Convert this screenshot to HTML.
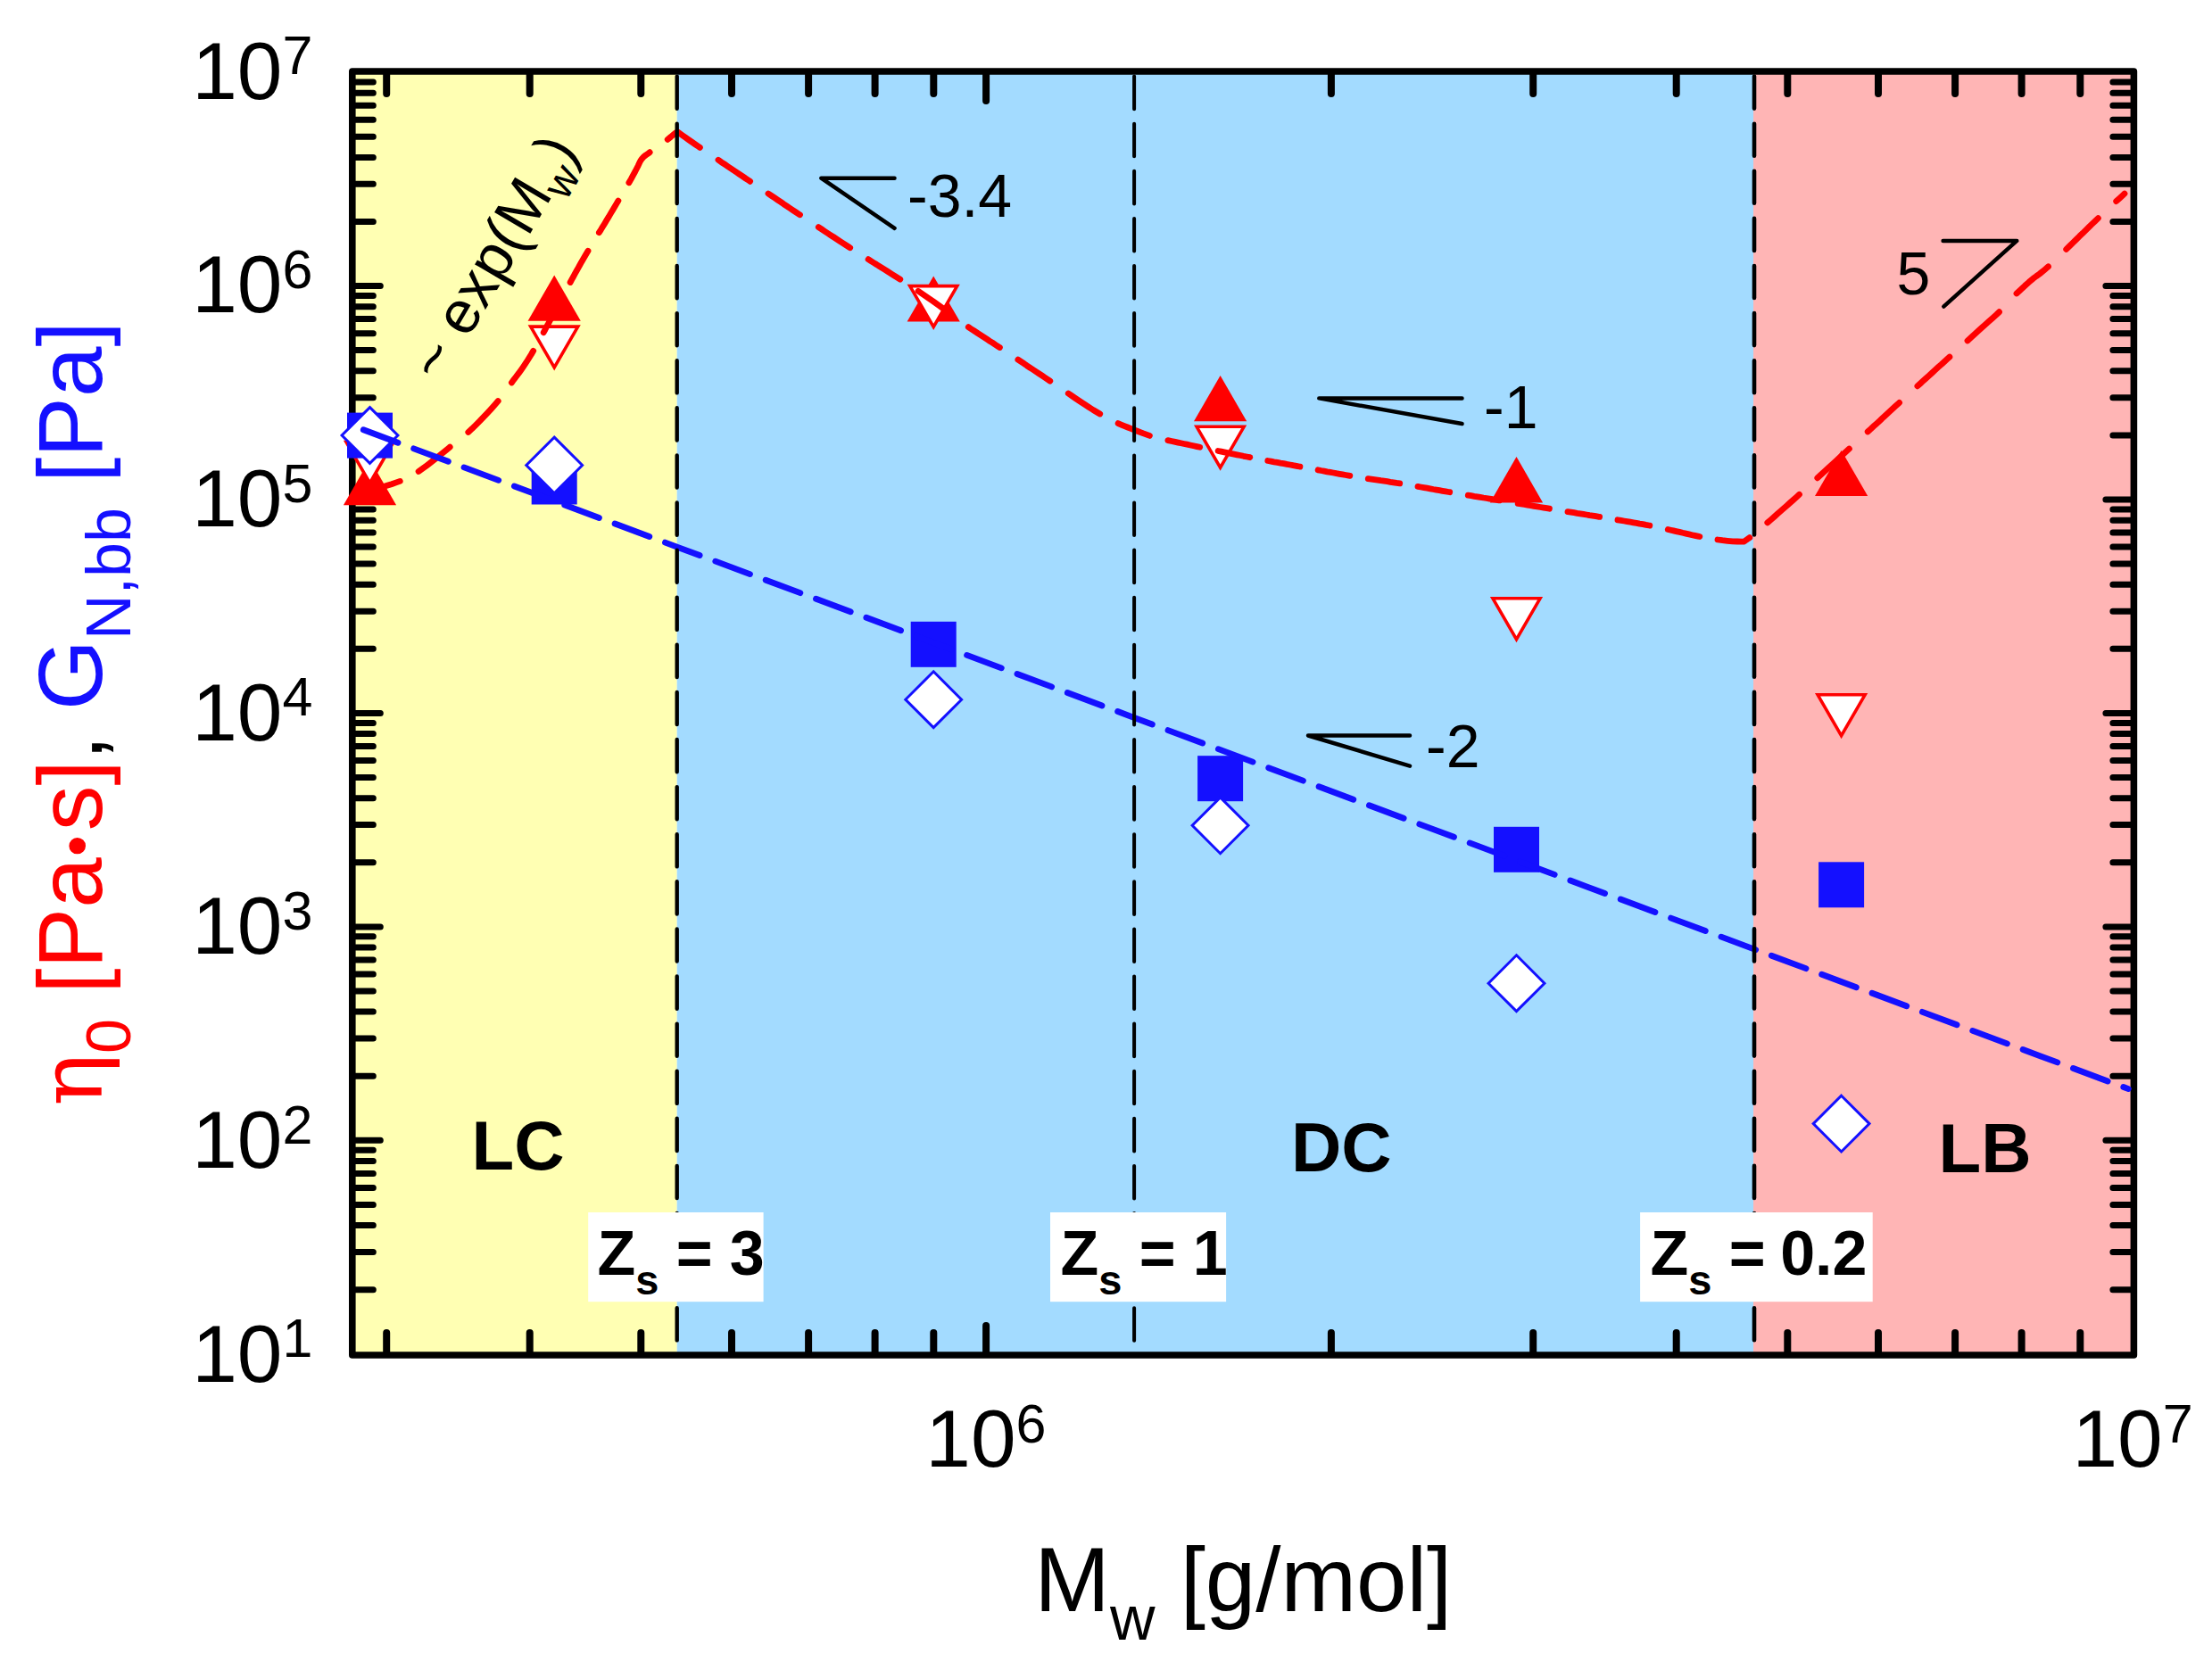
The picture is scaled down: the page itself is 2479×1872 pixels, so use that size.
<!DOCTYPE html>
<html lang="en">
<head>
<meta charset="utf-8">
<title>Zero-shear viscosity and plateau modulus vs. molecular weight</title>
<style>
html,body{margin:0;padding:0;background:#fff;}
body{width:2479px;height:1872px;overflow:hidden;}
svg{display:block;}
svg text{font-family:'Liberation Sans', sans-serif;fill:#000;white-space:pre;}
</style>
</head>
<body>
<svg width="2479" height="1872" viewBox="0 0 2479 1872">
<rect width="2479" height="1872" fill="#fff"/>
<g id="regions">
<rect x="394.8" y="80" width="363.9" height="1439" fill="#ffffb3"/>
<rect x="758.7" y="80" width="1206.3" height="1439" fill="#a3dbff"/>
<rect x="1965" y="80" width="426.4" height="1439" fill="#ffb5b5"/>
</g>
<path id="ticks" d="M394.8 1445.7h23.5M2391.4 1445.7h-23.5M394.8 1403.5h23.5M2391.4 1403.5h-23.5M394.8 1373.6h23.5M2391.4 1373.6h-23.5M394.8 1350.4h23.5M2391.4 1350.4h-23.5M394.8 1331.4h23.5M2391.4 1331.4h-23.5M394.8 1315.4h23.5M2391.4 1315.4h-23.5M394.8 1301.5h23.5M2391.4 1301.5h-23.5M394.8 1289.3h23.5M2391.4 1289.3h-23.5M394.8 1278.3h31.5M2391.4 1278.3h-31.5M394.8 1206.2h23.5M2391.4 1206.2h-23.5M394.8 1164.1h23.5M2391.4 1164.1h-23.5M394.8 1134.1h23.5M2391.4 1134.1h-23.5M394.8 1110.9h23.5M2391.4 1110.9h-23.5M394.8 1092h23.5M2391.4 1092h-23.5M394.8 1075.9h23.5M2391.4 1075.9h-23.5M394.8 1062.1h23.5M2391.4 1062.1h-23.5M394.8 1049.8h23.5M2391.4 1049.8h-23.5M394.8 1038.9h31.5M2391.4 1038.9h-31.5M394.8 966.8h23.5M2391.4 966.8h-23.5M394.8 924.6h23.5M2391.4 924.6h-23.5M394.8 894.7h23.5M2391.4 894.7h-23.5M394.8 871.5h23.5M2391.4 871.5h-23.5M394.8 852.5h23.5M2391.4 852.5h-23.5M394.8 836.5h23.5M2391.4 836.5h-23.5M394.8 822.6h23.5M2391.4 822.6h-23.5M394.8 810.4h23.5M2391.4 810.4h-23.5M394.8 799.4h31.5M2391.4 799.4h-31.5M394.8 727.3h23.5M2391.4 727.3h-23.5M394.8 685.2h23.5M2391.4 685.2h-23.5M394.8 655.3h23.5M2391.4 655.3h-23.5M394.8 632.1h23.5M2391.4 632.1h-23.5M394.8 613.1h23.5M2391.4 613.1h-23.5M394.8 597.1h23.5M2391.4 597.1h-23.5M394.8 583.2h23.5M2391.4 583.2h-23.5M394.8 570.9h23.5M2391.4 570.9h-23.5M394.8 560h31.5M2391.4 560h-31.5M394.8 487.9h23.5M2391.4 487.9h-23.5M394.8 445.7h23.5M2391.4 445.7h-23.5M394.8 415.8h23.5M2391.4 415.8h-23.5M394.8 392.6h23.5M2391.4 392.6h-23.5M394.8 373.7h23.5M2391.4 373.7h-23.5M394.8 357.6h23.5M2391.4 357.6h-23.5M394.8 343.7h23.5M2391.4 343.7h-23.5M394.8 331.5h23.5M2391.4 331.5h-23.5M394.8 320.5h31.5M2391.4 320.5h-31.5M394.8 248.5h23.5M2391.4 248.5h-23.5M394.8 206.3h23.5M2391.4 206.3h-23.5M394.8 176.4h23.5M2391.4 176.4h-23.5M394.8 153.2h23.5M2391.4 153.2h-23.5M394.8 134.2h23.5M2391.4 134.2h-23.5M394.8 118.2h23.5M2391.4 118.2h-23.5M394.8 104.3h23.5M2391.4 104.3h-23.5M394.8 92.1h23.5M2391.4 92.1h-23.5" fill="none" stroke="#000" stroke-width="7.0" stroke-linecap="round"/>
<path id="xticks" d="M433.2 1518v-23.9M433.2 81v23.9M593.7 1518v-23.9M593.7 81v23.9M718.3 1518v-23.9M718.3 81v23.9M820 1518v-23.9M820 81v23.9M906.1 1518v-23.9M906.1 81v23.9M980.6 1518v-23.9M980.6 81v23.9M1046.3 1518v-23.9M1046.3 81v23.9M1105.1 1518v-32M1105.1 81v32M1491.9 1518v-23.9M1491.9 81v23.9M1718.2 1518v-23.9M1718.2 81v23.9M1878.7 1518v-23.9M1878.7 81v23.9M2003.3 1518v-23.9M2003.3 81v23.9M2105 1518v-23.9M2105 81v23.9M2191.1 1518v-23.9M2191.1 81v23.9M2265.6 1518v-23.9M2265.6 81v23.9M2331.3 1518v-23.9M2331.3 81v23.9" fill="none" stroke="#000" stroke-width="8" stroke-linecap="round"/>
<rect id="frame" x="394.8" y="80" width="1996.6" height="1439" fill="none" stroke="#000" stroke-width="7.6" stroke-linejoin="round"/>
<g id="markers">
<polygon points="414.5,515 444.1,566.3 384.9,566.3" fill="#ff0000"/>
<polygon points="621.2,308.6 650.8,359.8 591.6,359.8" fill="#ff0000"/>
<polygon points="1046.2,309.4 1075.8,360.6 1016.6,360.6" fill="#ff0000"/>
<polygon points="1367.6,421 1397.2,472.3 1338,472.3" fill="#ff0000"/>
<polygon points="1699.5,512.1 1729.1,563.4 1669.9,563.4" fill="#ff0000"/>
<polygon points="2063.6,504.9 2093.2,556.1 2034,556.1" fill="#ff0000"/>
<polygon points="388,495.6 441,495.6 414.5,541.4" fill="#fff" stroke="#ff0000" stroke-width="3.6"/>
<polygon points="594.7,366.1 647.7,366.1 621.2,412" fill="#fff" stroke="#ff0000" stroke-width="3.6"/>
<polygon points="1019.7,320.6 1072.7,320.6 1046.2,366.5" fill="#fff" stroke="#ff0000" stroke-width="3.6"/>
<polygon points="1341.1,478.3 1394.1,478.3 1367.6,524.2" fill="#fff" stroke="#ff0000" stroke-width="3.6"/>
<polygon points="1673,670.8 1726,670.8 1699.5,716.7" fill="#fff" stroke="#ff0000" stroke-width="3.6"/>
<polygon points="2037.1,778.8 2090.1,778.8 2063.6,824.6" fill="#fff" stroke="#ff0000" stroke-width="3.6"/>
<rect x="389" y="462.6" width="51" height="51" fill="#1410ff"/>
<rect x="595.7" y="514.5" width="51" height="51" fill="#1410ff"/>
<rect x="1020.7" y="696.8" width="51" height="51" fill="#1410ff"/>
<rect x="1342.1" y="847.2" width="51" height="51" fill="#1410ff"/>
<rect x="1674" y="926.8" width="51" height="51" fill="#1410ff"/>
<rect x="2038.1" y="966.3" width="51" height="51" fill="#1410ff"/>
<polygon points="414.5,456.6 445.9,488 414.5,519.4 383.1,488" fill="#fff" stroke="#1410ff" stroke-width="3"/>
<polygon points="621.2,490.1 652.6,521.5 621.2,552.9 589.8,521.5" fill="#fff" stroke="#1410ff" stroke-width="3"/>
<polygon points="1046.2,752.8 1077.6,784.2 1046.2,815.6 1014.8,784.2" fill="#fff" stroke="#1410ff" stroke-width="3"/>
<polygon points="1367.6,893.9 1399,925.3 1367.6,956.7 1336.2,925.3" fill="#fff" stroke="#1410ff" stroke-width="3"/>
<polygon points="1699.5,1070.8 1730.9,1102.2 1699.5,1133.6 1668.1,1102.2" fill="#fff" stroke="#1410ff" stroke-width="3"/>
<polygon points="2063.6,1228.2 2095,1259.6 2063.6,1291 2032.2,1259.6" fill="#fff" stroke="#1410ff" stroke-width="3"/>
</g>
<path id="eta-guide" d="M414.5 549.5L417.9 548.6L422.8 547.4L428.4 545.9L433.7 544.3L438.8 542.7L444 540.9L448.3 539.4M469.1 528.5L473.6 525.3L478.5 521.7L483.6 517.8L488.6 513.8L493.5 509.9L498.5 505.8L503.4 501.8L504.2 501.1M524.8 484.4L529 480.6L533.3 476.4L537.5 472.2L541.8 467.7L546.1 463.2L550.5 458.4L554.8 453.5L558.2 449.6M573.4 428.9L575.8 425.6L578.4 422.2L581.1 418.7L584 414.7L586.5 411.1L588.8 407.7L591.2 404L593.2 400.8L595.4 397.3L597.4 393.8L597.7 393.3M609.2 372.7L611 369.3L612.6 366.2L614.3 363.2L616 360L617.6 356.9L619.3 353.7L621.1 350.4L622.8 347.2L624.5 343.9L626.2 340.7L627.9 337.4M639.1 316.5L640.9 313.2L642.7 310L644.3 306.9L646.2 303.5L648 300.3L649.7 297.3L651.7 293.7L653.7 290.3L655.6 287L657.5 283.8L659 281.2M671.4 260.7L673.4 257.6L675.2 254.6L677.6 250.7L679.9 246.8L682.3 242.9L684.5 239.1L686.7 235.4L688.9 231.8L690.9 228.4L692.9 225.1M704.9 204.8L707.3 200.6L709.7 196.1L711.7 192.5L713.5 189L715.2 185.7L716.5 182.8L717.8 180.2L719.5 177.8L721.5 175.7L723.6 174L726.2 172.2L728.2 170.7M748.2 156.3L751.7 153.5L754.8 150.9L757.3 148.8L759.4 147.9L764.1 151.2L768.1 154.1L771.7 156.6L775.7 159.4L779.6 162.1L782.8 164.3L784.4 165.4M805 179.3L808.5 181.8L812.2 184.2L815.9 186.7L819.3 189L822.3 191L825.3 193L828.4 195.1L832.2 197.6L835.8 200.1L839.5 202.5L840.6 203.3M861 217L864.5 219.4L868 221.7L871.5 224.1L875 226.4L878.4 228.8L881.9 231.1L885.4 233.5L888.9 235.8L892.4 238.1L895.9 240.5L896.5 240.8M917.3 254.6L920.8 256.9L924.2 259.2L927.7 261.5L931.2 263.8L934.7 266L938.2 268.3L941.6 270.6L945.1 272.8L948.6 275.1L952.1 277.4L952.7 277.7M973.1 290.7L976.1 292.6L979.1 294.5L982.4 296.5L986.1 298.9L989.8 301.2L993.4 303.4L996.9 305.7L1000.3 307.8L1003.6 309.9L1006.8 311.9L1008.8 313.2M1029 326.3L1033 329L1037 331.7L1041 334.5L1045.4 337.5L1048.6 339.8L1051.7 342L1054.8 344.3L1057.9 346.6L1061 348.9L1064.2 351.2L1064.7 351.6M1085.3 366.6L1088.4 368.7L1091.4 370.7L1095.9 373.7L1099.8 376.2L1102.9 378.2L1106 380.2L1109.2 382.3L1112.6 384.4L1116 386.7L1119.7 389.1L1120.4 389.5M1140.9 403.2L1144.7 405.7L1147.8 407.7L1150.8 409.8L1153.8 411.8L1157.2 414L1160.9 416.5L1164.5 418.9L1168 421.2L1171.4 423.5L1174.6 425.6L1176.8 427.1M1197.3 441L1200.4 443.1L1204.7 446.1L1208.8 448.9L1212.6 451.4L1216.1 453.7L1220.2 456.4L1225.1 459.5L1229.3 462L1232.7 464M1253.1 474.6L1257.1 476.3L1260.3 477.6L1263.8 479L1267.3 480.4L1270.9 481.8L1274.6 483.2L1278.1 484.6L1281.5 485.9L1284.9 487.1L1288.4 488.4M1308.9 493.6L1312.9 494.5L1317.2 495.4L1320.3 496.1L1323.5 496.8L1326.9 497.5L1330.4 498.2L1334 499L1337.7 499.8L1341.5 500.6L1344.7 501.3M1365.1 505.5L1368.6 506.2L1372.1 506.9L1375.7 507.6L1379.3 508.4L1382.9 509.1L1386.5 509.8L1390.1 510.5L1393.7 511.3L1397.3 512L1400.8 512.7M1420.8 516.5L1424.4 517.1L1427.9 517.8L1431.5 518.4L1435.1 519.1L1438.6 519.7L1442.2 520.4L1445.7 521L1449.2 521.7L1452.8 522.3L1456.3 523L1456.9 523.1M1477.1 526.8L1480.6 527.5L1484 528.1L1487.4 528.8L1490.9 529.4L1494.3 530L1497.7 530.7L1501.2 531.3L1504.7 531.9L1508.1 532.5L1511.6 533.1L1512.8 533.3M1533.3 536.6L1536.8 537.1L1540.4 537.6L1543.9 538.1L1547.5 538.7L1551 539.2L1554.6 539.7L1558.1 540.3L1561.6 540.8L1565.2 541.4L1568.7 541.9M1589 545.4L1592.4 546L1595.9 546.6L1599.4 547.2L1602.8 547.8L1606.3 548.5L1609.7 549.1L1613.2 549.7L1616.6 550.3L1620.1 550.9L1623.5 551.5L1624.7 551.7M1645.3 555.2L1648.7 555.7L1652.2 556.3L1655.6 556.8L1659 557.4L1662.5 558L1665.9 558.5L1669.4 559.1L1672.9 559.7L1676.3 560.2L1679.8 560.8L1680.4 560.9M1701.2 564.3L1704.7 564.9L1708.3 565.5L1711.9 566.1L1715.5 566.7L1719.1 567.3L1722.7 567.9L1726.3 568.5L1729.9 569.1L1733.5 569.7L1736.4 570.2M1757 573.6L1760.5 574.1L1764 574.7L1767.5 575.3L1771 575.8L1774.5 576.4L1778 577L1781.5 577.6L1785 578.1L1788.5 578.7L1792 579.3L1792.6 579.4M1813 582.8L1816.6 583.4L1820.1 584L1823.6 584.6L1827.1 585.2L1830.6 585.8L1834.1 586.4L1837.6 587.1L1841.2 587.7L1844.7 588.4L1848.2 589L1848.8 589.1M1869.3 593.5L1872.4 594.2L1875.4 594.9L1878.4 595.6L1882.2 596.4L1885.8 597.3L1889.4 598.1L1892.9 598.9L1896.3 599.7L1899.5 600.4L1902.9 601.1L1904.8 601.5M1925 605L1930.3 605.7L1936 606.3L1941.8 606.8L1947.1 607L1951.4 607.2L1954.2 607.2L1955.6 606.3L1957.5 605L1959.9 603.3L1960.8 602.7M1980.8 585.9L1984.8 582.5L1988.9 578.9L1992 576.1L1995.2 573.3L1998.6 570.3L2002.1 567.2L2005.8 563.9L2009.5 560.6L2013.3 557.2L2016.5 554.3M2036.8 535.8L2040.3 532.6L2043.9 529.3L2047.4 526.1L2051 522.8L2054.6 519.5L2058.2 516.1L2061.8 512.8L2065.4 509.5L2068.9 506.3L2072.4 503.1M2093.2 483.9L2096.7 480.8L2100.1 477.6L2103.6 474.4L2107.1 471.2L2110.5 467.9L2114 464.7L2117.5 461.5L2121 458.3L2124.5 455.1L2128 451.9L2128.6 451.3M2148.9 432.8L2151.9 430.1L2154.9 427.3L2157.9 424.6L2161.4 421.4L2165.1 418.1L2168.7 414.8L2172.2 411.6L2175.7 408.5L2179 405.4L2182.2 402.5L2184.9 400.1M2205 381.9L2209.3 378L2213.4 374.3L2217.2 370.8L2220.8 367.5L2224.2 364.5L2228.9 360.3L2233.5 356.2L2237.6 352.5L2240.5 349.7M2260 329L2264.6 324.7L2269.2 320.4L2273.9 316.2L2278.5 312.3L2282.1 309.6L2285.8 307L2290.5 303.2L2294.1 300L2295.5 298.8M2315.7 279.4L2319.4 275.8L2323.1 272.1L2326.8 268.5L2330.5 264.8L2334.2 261.3L2337.7 257.8L2341.1 254.5L2344.3 251.4L2347.9 248L2351.4 244.6M2371.7 225.6L2375.2 222.4L2379.5 218.4L2381 217" fill="none" stroke="#ff0000" stroke-width="6.8" stroke-linecap="round" stroke-linejoin="round"/>
<line id="g-guide" x1="407.3" y1="481.8" x2="2385.3" y2="1220.6" stroke="#1410ff" stroke-width="6.8" stroke-linecap="round" stroke-dasharray="41.31 18.85"/>
<line x1="758.7" y1="85.6" x2="758.7" y2="1503" stroke="#000" stroke-width="4.4" stroke-linecap="round" stroke-dasharray="36.2 16.9"/>
<line x1="1271.1" y1="85.6" x2="1271.1" y2="1503" stroke="#000" stroke-width="4.0" stroke-linecap="round" stroke-dasharray="36.6 16.5"/>
<line x1="1966" y1="85.6" x2="1966" y2="1503" stroke="#000" stroke-width="4.6" stroke-linecap="round" stroke-dasharray="36.0 17.1"/>
<g id="slopes" fill="none" stroke="#000" stroke-width="4.5" stroke-linecap="round" stroke-linejoin="round">
<path d="M1002.5 199.7H920.3L1002.5 255.8"/>
<path d="M1638.5 446.4H1478.3L1638.5 475"/>
<path d="M1580 824.5H1466L1580 858.6"/>
<path d="M2177.6 269.9H2260.3L2178.3 343.6"/>
</g>
<g id="boxes" fill="#fff">
<rect x="659.2" y="1359" width="196.4" height="100.2"/>
<rect x="1177" y="1359" width="197.1" height="100.2"/>
<rect x="1838.1" y="1359" width="260.6" height="100.2"/>
</g>
<g id="labels">
<text x="215.2" y="1548.5" font-size="91">10<tspan font-size="61" dy="-27.2">1</tspan></text>
<text x="215.2" y="1308.8" font-size="91">10<tspan font-size="61" dy="-27.2">2</tspan></text>
<text x="215.2" y="1069.2" font-size="91">10<tspan font-size="61" dy="-27.2">3</tspan></text>
<text x="215.2" y="829.5" font-size="91">10<tspan font-size="61" dy="-27.2">4</tspan></text>
<text x="215.2" y="589.9" font-size="91">10<tspan font-size="61" dy="-27.2">5</tspan></text>
<text x="215.2" y="350.2" font-size="91">10<tspan font-size="61" dy="-27.2">6</tspan></text>
<text x="215.2" y="110.6" font-size="91">10<tspan font-size="61" dy="-27.2">7</tspan></text>
<text x="1037.3" y="1643.8" font-size="91">10<tspan font-size="61" dy="-27.2">6</tspan></text>
<text x="2322.5" y="1643.8" font-size="91">10<tspan font-size="61" dy="-27.2">7</tspan></text>
<text x="1393.3" y="1806.1" font-size="101.5" text-anchor="middle">M<tspan font-size="70" dy="32">w</tspan><tspan dy="-32"> [g/mol]</tspan></text>
<text transform="translate(113.6 800) rotate(-90)" font-size="101.5" text-anchor="middle"><tspan fill="#ff0000"><tspan font-family="'DejaVu Serif', 'Liberation Serif', serif" font-size="98">η</tspan><tspan font-size="70" dy="32">0</tspan><tspan dy="-32"> [Pa</tspan><tspan font-size="68" dy="-4.3" dx="1.5">•</tspan><tspan dy="4.3" dx="4.8">s]</tspan></tspan><tspan fill="#000">,</tspan><tspan fill="#1410ff"> G<tspan font-size="70" dy="32">N,bb</tspan><tspan dy="-32"> [Pa]</tspan></tspan></text>
<text x="1017" y="243" font-size="68">-3.4</text>
<text x="1663" y="480.3" font-size="68">-1</text>
<text x="1598" y="859.5" font-size="68">-2</text>
<text x="2125.5" y="329.5" font-size="68">5</text>
<text transform="translate(494.6 431) rotate(-59.5)" font-size="68">~ exp(M<tspan font-size="47" dy="16.5">w</tspan><tspan dy="-16.5">)</tspan></text>
<text x="528.5" y="1311.2" font-size="78" font-weight="bold">LC</text>
<text x="1447" y="1313.2" font-size="78" font-weight="bold">DC</text>
<text x="2172.5" y="1314.3" font-size="78" font-weight="bold">LB</text>
<text x="669.5" y="1428.6" font-size="70" font-weight="bold">Z<tspan font-size="47" dy="22.6">s</tspan><tspan dy="-22.6"> = </tspan><tspan dx="-0.5">3</tspan></text>
<text x="1188.5" y="1428.6" font-size="70" font-weight="bold">Z<tspan font-size="47" dy="22.6">s</tspan><tspan dy="-22.6"> = </tspan><tspan dx="-0.5">1</tspan></text>
<text x="1849.5" y="1428.6" font-size="70" font-weight="bold">Z<tspan font-size="47" dy="22.6">s</tspan><tspan dy="-22.6"> = </tspan><tspan dx="-3">0.2</tspan></text>
</g>
</svg>
</body>
</html>
